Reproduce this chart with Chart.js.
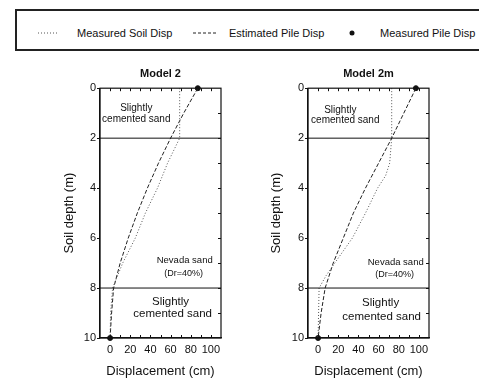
<!DOCTYPE html>
<html>
<head>
<meta charset="utf-8">
<script src="https://cdn.jsdelivr.net/npm/chart.js@4.4.0/dist/chart.umd.min.js"></script>
<style>
  body { margin: 0; background: #fff; width: 479px; height: 379px; overflow: hidden; position: relative;
         font-family: "Liberation Sans", Arial, sans-serif; color: #111; }
  #legend { position: absolute; left: 15px; top: 9px; width: 480px; height: 38px;
            border: 2px solid #222; border-right: none; }
  .lg { position: absolute; top: 27px; font-size: 11px; line-height: 13px; white-space: nowrap; }
  svg { position: absolute; }
  canvas { position: absolute; top: 58px; }
</style>
</head>
<body>
<div id="legend"></div>
<svg style="left:38px;top:30px" width="22" height="6"><line x1="0" y1="3" x2="21" y2="3" stroke="#555" stroke-width="1" stroke-dasharray="1,2"/></svg>
<span class="lg" style="left:77px">Measured Soil Disp</span>
<svg style="left:193px;top:30px" width="26" height="6"><line x1="0" y1="3" x2="25" y2="3" stroke="#222" stroke-width="1" stroke-dasharray="3,2"/></svg>
<span class="lg" style="left:229px">Estimated Pile Disp</span>
<svg style="left:348px;top:29px" width="8" height="8"><circle cx="4" cy="4" r="2.5" fill="#111"/></svg>
<span class="lg" style="left:380px">Measured Pile Disp</span>

<canvas id="c1" width="240" height="321" style="left:0px"></canvas>
<canvas id="c2" width="239" height="321" style="left:240px"></canvas>

<script>
// depth (m) vs displacement (cm)
const pileDepth = [0, 1, 2, 3, 4, 5, 6, 7, 8, 9, 10];
const pileModel2 = [87, 73, 60, 48, 37, 27, 18, 10, 3.5, 1.5, 0];
const pileModel2m = [97, 85, 73, 60, 47, 35, 25, 15, 7, 3, 0];

const soilDepthModel2 = [0, 2, 3, 4, 5, 6, 7, 8, 9, 10];
const soilModel2 = [69, 69, 57, 47, 35, 25, 12.5, 2.5, 0.5, 0];
const soilDepthModel2m = [0, 2, 3, 3.5, 4, 5, 6, 6.8, 7.5, 8, 9, 10];
const soilModel2m = [73, 73, 71, 67, 59, 47, 34, 20, 8, 1, 0.5, 0];

const measuredDepth = [0, 10];
const measuredModel2 = [87, 0];
const measuredModel2m = [97, 0];

const layerDepths = [2, 8];
const xTicks = [0, 20, 40, 60, 80, 100];
const depthTicks = [0, 2, 4, 6, 8, 10];

Chart.defaults.font.family = '"Liberation Sans", Arial, sans-serif';
Chart.defaults.color = '#111';

const pts = (xs, ys) => xs.map((x, i) => ({ x: x, y: ys[i] }));

const frame = {
  id: 'frame',
  afterDatasetsDraw(chart, args, opts) {
    const { ctx, chartArea: a, scales: { x, y } } = chart;
    ctx.save();
    ctx.strokeStyle = '#111';
    ctx.lineWidth = 1.2;
    ctx.strokeRect(a.left, a.top, a.width, a.height);
    ctx.beginPath();
    for (let v = 0; v <= 100; v += 10) {
      const px = Math.round(x.getPixelForValue(v)) + 0.5;
      ctx.moveTo(px, a.top); ctx.lineTo(px, a.top + 3);
      ctx.moveTo(px, a.bottom); ctx.lineTo(px, a.bottom - 3);
    }
    for (let d = 1; d < 10; d++) {
      const py = Math.round(y.getPixelForValue(d)) + 0.5;
      ctx.moveTo(a.right, py); ctx.lineTo(a.right - 3, py);
    }
    ctx.lineWidth = 1;
    ctx.stroke();
    ctx.fillStyle = '#111';
    ctx.textAlign = 'center';
    ctx.textBaseline = 'middle';
    opts.notes.forEach(n => {
      ctx.font = n.size + 'px "Liberation Sans", Arial, sans-serif';
      ctx.fillText(n.text, x.getPixelForValue(n.x), y.getPixelForValue(n.y));
    });
    ctx.restore();
  }
};

function makeChart(id, title, pile, soilDepth, soil, measured, notes, padL, padR, yWidth) {
  const layers = layerDepths.map(d => ({
    data: [{ x: -10, y: d }, { x: 110, y: d }],
    showLine: true, borderColor: '#111', borderWidth: 1, pointRadius: 0
  }));
  new Chart(document.getElementById(id), {
    type: 'scatter',
    data: {
      datasets: layers.concat([
        { label: 'Measured Soil Disp', data: pts(soil, soilDepth), showLine: true,
          borderColor: '#555', borderWidth: 1, borderDash: [1, 2], pointRadius: 0 },
        { label: 'Estimated Pile Disp', data: pts(pile, pileDepth), showLine: true,
          borderColor: '#222', borderWidth: 1, borderDash: [4, 2], pointRadius: 0 },
        { label: 'Measured Pile Disp', data: pts(measured, measuredDepth), showLine: false,
          pointRadius: 2.5, backgroundColor: '#111', borderColor: '#111', clip: false }
      ])
    },
    options: {
      responsive: false,
      animation: false,
      layout: { padding: { left: padL, right: padR, top: 0, bottom: 0 } },
      plugins: {
        legend: { display: false },
        tooltip: { enabled: false },
        title: { display: true, text: title, fullSize: false, color: '#111',
                 font: { size: 11, weight: 'bold' }, padding: { top: 9, bottom: 8 } },
        frame: { notes: notes }
      },
      scales: {
        x: {
          type: 'linear', min: -10, max: 110,
          afterBuildTicks: s => { s.ticks = xTicks.map(v => ({ value: v })); },
          afterFit: s => { s.height = 41; },
          grid: { display: false },
          border: { color: '#111', width: 1.2 },
          ticks: { font: { size: 11 }, color: '#111', padding: -3,
                   maxRotation: 0, minRotation: 0, autoSkip: false },
          title: { display: true, text: 'Displacement (cm)', color: '#111',
                   font: { size: 13 }, padding: { top: 0, bottom: 0 } }
        },
        y: {
          type: 'linear', reverse: true, min: 0, max: 10,
          afterBuildTicks: s => { s.ticks = depthTicks.map(v => ({ value: v })); },
          afterFit: s => { s.width = yWidth; },
          grid: { drawOnChartArea: false, drawTicks: true, tickLength: 3, color: '#111' },
          border: { color: '#111', width: 1.2 },
          ticks: { font: { size: 11 }, color: '#111', padding: 1, autoSkip: false },
          title: { display: true, text: 'Soil depth (m)', color: '#111',
                   font: { size: 13 }, padding: { top: 7, bottom: 0 } }
        }
      }
    },
    plugins: [frame]
  });
}

makeChart('c1', 'Model 2', pileModel2, soilDepthModel2, soilModel2, measuredModel2, [
  { text: 'Slightly', x: 26, y: 0.8, size: 10 },
  { text: 'cemented sand', x: 26, y: 1.25, size: 10 },
  { text: 'Nevada sand', x: 74, y: 6.9, size: 9.5 },
  { text: '(Dr=40%)', x: 73, y: 7.4, size: 9 },
  { text: 'Slightly', x: 60, y: 8.55, size: 11.5 },
  { text: 'cemented sand', x: 62, y: 9.05, size: 11.5 }
], 55, 19, 45);

makeChart('c2', 'Model 2m', pileModel2m, soilDepthModel2m, soilModel2m, measuredModel2m, [
  { text: 'Slightly', x: 22, y: 0.88, size: 10 },
  { text: 'cemented sand', x: 27, y: 1.28, size: 10 },
  { text: 'Nevada sand', x: 77, y: 6.96, size: 9.5 },
  { text: '(Dr=40%)', x: 76, y: 7.45, size: 9 },
  { text: 'Slightly', x: 62, y: 8.6, size: 11.5 },
  { text: 'cemented sand', x: 63, y: 9.15, size: 11.5 }
], 22, 50, 46);
</script>
</body>
</html>
